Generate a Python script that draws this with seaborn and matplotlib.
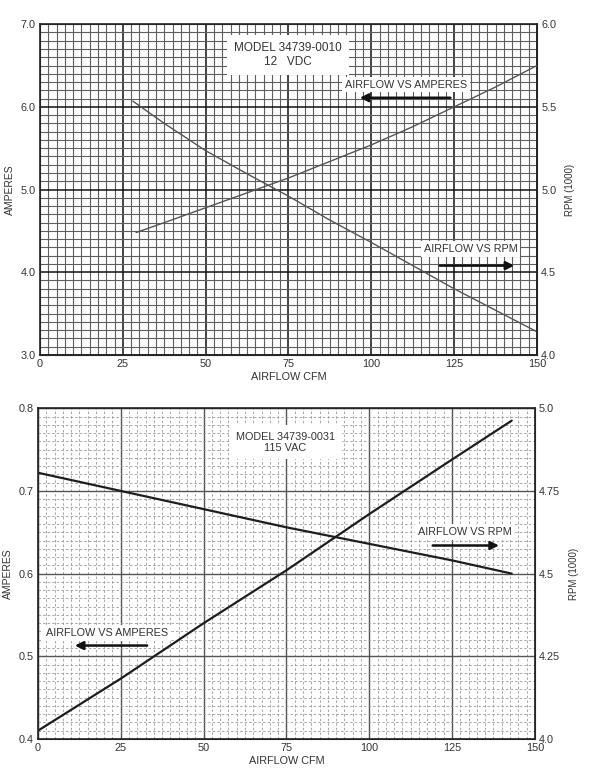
import numpy as np
import pandas as pd
import matplotlib
matplotlib.use('Agg')
import matplotlib.pyplot as plt
import seaborn as sns
from matplotlib.ticker import MultipleLocator

# top chart: model 34739-0010, 12 VDC
dc_amp_cfm = [28, 37.5, 50, 62.5, 75, 87.5, 100, 112.5, 125, 137.5, 150]
dc_amps = [6.07, 5.80, 5.47, 5.19, 4.92, 4.63, 4.36, 4.08, 3.80, 3.54, 3.28]
dc_rpm_cfm = [29, 37.5, 50, 62.5, 75, 87.5, 100, 112.5, 125, 137.5, 150]
dc_rpm = [4.74, 4.80, 4.89, 4.98, 5.07, 5.17, 5.27, 5.38, 5.50, 5.62, 5.75]

# bottom chart: model 34739-0031, 115 VAC
ac_amp_cfm = [0, 25, 50, 75, 100, 125, 143]
ac_amps = [0.41, 0.473, 0.540, 0.604, 0.672, 0.738, 0.785]
ac_rpm_cfm = [0, 25, 50, 75, 100, 125, 143]
ac_rpm = [4.805, 4.750, 4.695, 4.640, 4.590, 4.540, 4.500]

x_ticks = [0, 25, 50, 75, 100, 125, 150]
dc_amp_ticks = [3.0, 4.0, 5.0, 6.0, 7.0]
dc_rpm_ticks = [4.0, 4.5, 5.0, 5.5, 6.0]
ac_amp_ticks = [0.4, 0.5, 0.6, 0.7, 0.8]
ac_rpm_ticks = [4.0, 4.25, 4.5, 4.75, 5.0]

sns.set_style("white")
plt.rcParams['font.family'] = ['Liberation Sans', 'DejaVu Sans']
plt.rcParams['font.size'] = 7.5

fig = plt.figure(figsize=(5.93, 7.80), dpi=100)
ax1 = fig.add_axes([0.0675, 0.545, 0.838, 0.424])
ax2 = fig.add_axes([0.064, 0.0526, 0.838, 0.424])

txt_col = '#333333'
box = dict(facecolor='white', edgecolor='none', pad=2)
arrow = dict(arrowstyle='-|>', color='#111111', lw=1.8, mutation_scale=12)


def setup(ax, yticks, ylim, xminor, yminor, dashed):
    ax.set_xlim(0, 150)
    ax.set_ylim(*ylim)
    ax.set_xticks(x_ticks)
    ax.set_yticks(yticks)
    ax.xaxis.set_minor_locator(MultipleLocator(xminor))
    ax.yaxis.set_minor_locator(MultipleLocator(yminor))
    if dashed:
        ax.grid(which='minor', color='#9a9a9a', lw=0.6, ls=(0, (3, 2.5)))
        ax.grid(which='major', color='#555555', lw=1.0)
    else:
        ax.grid(which='minor', color='#5e5e5e', lw=0.8)
        ax.grid(which='major', color='#111111', lw=1.1)
    ax.set_axisbelow(True)
    ax.tick_params(which='both', length=0, labelsize=7.8, colors=txt_col, pad=3)
    for s in ax.spines.values():
        s.set_color('#222222')
        s.set_linewidth(1.2)
    ax.set_xlabel('AIRFLOW CFM', color=txt_col, fontsize=7.8, labelpad=2)
    ax.set_ylabel('AMPERES', color=txt_col, fontsize=7.5, labelpad=4)


# ---- top chart ----
setup(ax1, dc_amp_ticks, (3.0, 7.0), 2.5, 0.1, dashed=False)
ax1.set_yticklabels([f'{v:.1f}' for v in dc_amp_ticks])
sns.lineplot(x=dc_amp_cfm, y=dc_amps, ax=ax1, color='#555555', lw=1.0)
ax1r = ax1.twinx()
sns.lineplot(x=dc_rpm_cfm, y=dc_rpm, ax=ax1r, color='#555555', lw=1.0)
ax1r.set_ylim(4.0, 6.0)
ax1r.set_yticks(dc_rpm_ticks)
ax1r.set_yticklabels([f'{v:.1f}' for v in dc_rpm_ticks])
ax1r.tick_params(length=0, labelsize=7.8, colors=txt_col, pad=3)
ax1r.set_ylabel('RPM (1000)', color=txt_col, fontsize=7, labelpad=6)
ax1r.grid(False)

ax1.text(74.9, 6.63, 'MODEL 34739-0010\n12   VDC', ha='center', va='center',
         fontsize=8.5, color=txt_col, linespacing=1.2,
         bbox=dict(facecolor='white', edgecolor='none', pad=5))
ax1.text(110.5, 6.27, 'AIRFLOW VS AMPERES', ha='center', va='center',
         fontsize=7.8, color=txt_col, bbox=box)
ax1.annotate('', xy=(95.7, 6.11), xytext=(124.7, 6.11), arrowprops=arrow)
ax1.text(130, 4.28, 'AIRFLOW VS RPM', ha='center', va='center',
         fontsize=7.8, color=txt_col, bbox=box)
ax1.annotate('', xy=(144, 4.08), xytext=(119.8, 4.08), arrowprops=arrow)

# ---- bottom chart ----
setup(ax2, ac_amp_ticks, (0.4, 0.8), 2.5, 0.01, dashed=True)
ax2.set_yticklabels([f'{v:.1f}' for v in ac_amp_ticks])
sns.lineplot(x=ac_amp_cfm, y=ac_amps, ax=ax2, color='#1e1e1e', lw=1.6)
ax2r = ax2.twinx()
sns.lineplot(x=ac_rpm_cfm, y=ac_rpm, ax=ax2r, color='#1e1e1e', lw=1.6)
ax2r.set_ylim(4.0, 5.0)
ax2r.set_yticks(ac_rpm_ticks)
ax2r.set_yticklabels(['4.0', '4.25', '4.5', '4.75', '5.0'])
ax2r.tick_params(length=0, labelsize=7.8, colors=txt_col, pad=3)
ax2r.set_ylabel('RPM (1000)', color=txt_col, fontsize=7, labelpad=6)
ax2r.grid(False)

ax2.text(74.6, 0.759, 'MODEL 34739-0031\n115 VAC', ha='center', va='center',
         fontsize=7.8, color=txt_col, linespacing=1.1,
         bbox=dict(facecolor='white', edgecolor='none', pad=5))
ax2.text(128.9, 0.650, 'AIRFLOW VS RPM', ha='center', va='center',
         fontsize=7.8, color=txt_col, bbox=box)
ax2.annotate('', xy=(140, 0.634), xytext=(118.3, 0.634), arrowprops=arrow)
ax2.text(20.8, 0.528, 'AIRFLOW VS AMPERES', ha='center', va='center',
         fontsize=7.8, color=txt_col, bbox=box)
ax2.annotate('', xy=(10.3, 0.513), xytext=(33.8, 0.513), arrowprops=arrow)

fig.savefig('out.png', dpi=100)
